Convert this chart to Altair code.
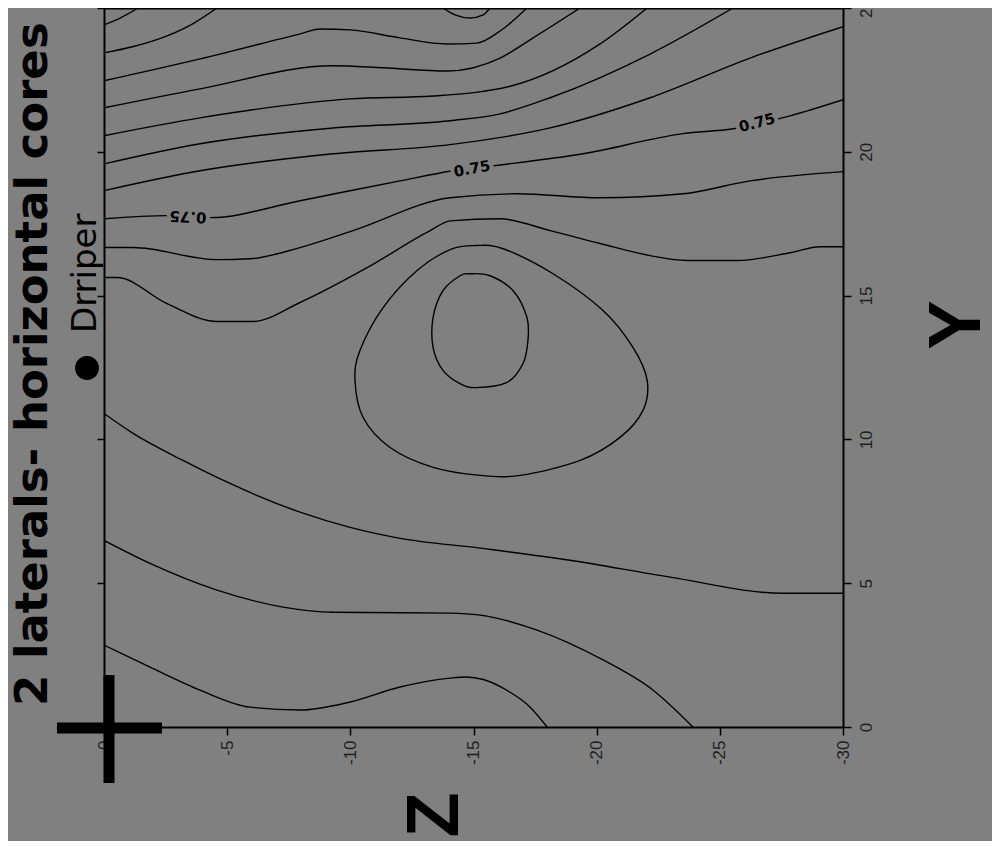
import altair as alt
import pandas as pd

# ---------------- data (Z, Y) ----------------
z_ticks = [0, -5, -10, -15, -20, -25, -30]
y_ticks = [0, 5, 10, 15, 20, 25]

# open contour lines
c01_z = [0, -0.65, -1.4]
c01_y = [24.41, 24.65, 25.0]
c02_z = [-13.76, -14.25, -14.86, -15.39, -15.67]
c02_y = [25.0, 24.76, 24.65, 24.76, 25.0]
c03_z = [0, -1.2, -2.56, -3.6, -4.59]
c03_y = [23.44, 23.66, 24.03, 24.45, 25.0]
c04_z = [0, -3.90, -7.96, -8.77, -9.99, -12.02, -13.93, -15.14, -16.08, -17.17]
c04_y = [22.47, 23.23, 24.10, 24.27, 24.24, 23.96, 23.75, 23.78, 24.20, 25.0]
c05_z = [0, -3.90, -9.30, -11.33, -13.93, -16.08, -17.42, -19.33]
c05_y = [21.53, 22.19, 22.99, 22.92, 22.81, 23.26, 23.96, 25.0]
c06_z = [0, -3.90, -9.99, -13.36, -16.5, -20.14, -22.05]
c06_y = [20.56, 21.18, 21.84, 21.94, 22.28, 23.75, 25.0]
c07_z = [0, -3.90, -9.30, -14.05, -16.08, -18.11, -22.17, -25.54]
c07_y = [19.58, 20.28, 20.83, 21.08, 21.32, 21.88, 23.40, 25.0]
c08_z = [0, -3.90, -9.30, -14.05, -18.11, -22.17, -26.23, -30]
c08_y = [18.65, 19.34, 19.93, 20.25, 20.83, 21.88, 23.26, 24.35]
c09_z = [0, -2.56, -4.30, -7.96, -12.02, -14.17, -15.79, -19.45, -23.51, -25.54, -27.85, -30]
c09_y = [17.67, 17.78, 17.71, 18.30, 18.99, 19.34, 19.51, 19.93, 20.63, 20.80, 21.25, 21.81]
c10_z = [0, -1.18, -4.59, -5.93, -7.96, -10.11, -14.05, -16.77, -20.14, -23.51, -26.23, -30]
c10_y = [16.67, 16.67, 16.25, 16.28, 16.67, 17.26, 18.40, 18.54, 18.40, 18.54, 18.99, 19.31]
c11_z = [0, -0.53, -2.56, -4.59, -6.05, -7.96, -10.68, -13.24, -14.05, -16.08, -18.11,
         -20.14, -22.17, -23.67, -25.70, -27.85, -29.07, -30]
c11_y = [15.63, 15.63, 14.72, 14.10, 14.10, 14.76, 15.97, 17.26, 17.60, 17.67, 17.26,
         16.81, 16.39, 16.22, 16.22, 16.49, 16.70, 16.70]
c14_z = [0, -1.18, -3.21, -4.83, -7.96, -9.99, -12.02, -15.27, -18.92, -22.98, -27.57, -30]
c14_y = [10.90, 10.21, 9.27, 8.58, 7.47, 6.94, 6.56, 6.22, 5.80, 5.21, 4.65, 4.65]
c15_z = [0, -1.87, -4.59, -7.27, -9.30, -14.05, -15.27, -17.58, -20.26, -22.29, -23.91]
c15_y = [6.49, 5.69, 4.76, 4.17, 3.99, 3.96, 3.89, 3.37, 2.33, 1.28, 0]
c16_z = [0, -1.87, -3.90, -5.93, -7.96, -9.99, -12.02, -14.05, -14.7, -15.4, -16.20, -17.30, -17.99]
c16_y = [2.85, 2.08, 1.28, 0.69, 0.59, 0.87, 1.39, 1.70, 1.74, 1.65, 1.35, 0.69, 0]

# closed contour loops
c12_z = [-14.05, -15.1, -16.20, -18.23, -20.26, -21.48, -22.05, -21.88, -20.95, -19.33,
         -16.89, -15.27, -13.36, -11.61, -10.52, -10.19, -10.39, -11.33, -12.71]
c12_y = [16.6, 16.74, 16.63, 15.76, 14.48, 13.19, 12.05, 11.01, 10.07, 9.27,
         8.75, 8.75, 9.03, 9.72, 10.76, 12.05, 13.09, 14.58, 15.87]
c13_z = [-14.86, -15.67, -16.61, -17.17, -17.21, -17.01, -16.36, -15.1, -14.45, -13.76,
         -13.36, -13.36, -13.76, -14.45]
c13_y = [15.76, 15.69, 15.17, 14.24, 13.44, 12.64, 11.98, 11.80, 11.94, 12.40,
         13.19, 14.24, 15.17, 15.69]

# contour labels
lab_z = [-3.41, -14.94, -26.51]
lab_y = [17.74, 19.41, 21.01]
lab_angle = [183, 350, 345]
lab_text = ["0.75", "0.75", "0.75"]

title_text = "2 laterals- horizontal cores"
drip_text = "Drriper"
z_title = "Z"
y_title = "Y"

# ---------------- build tables ----------------
def build(pairs):
    rows = []
    for name, zs, ys in pairs:
        for i, (z, y) in enumerate(zip(zs, ys)):
            rows.append({"line": name, "i": i, "Z": z, "Y": y})
    return pd.DataFrame(rows)

open_df = build([
    ("c01", c01_z, c01_y), ("c02", c02_z, c02_y), ("c03", c03_z, c03_y),
    ("c04", c04_z, c04_y), ("c05", c05_z, c05_y), ("c06", c06_z, c06_y),
    ("c07", c07_z, c07_y), ("c08", c08_z, c08_y), ("c09", c09_z, c09_y),
    ("c10", c10_z, c10_y), ("c11", c11_z, c11_y), ("c14", c14_z, c14_y),
    ("c15", c15_z, c15_y), ("c16", c16_z, c16_y),
])
closed_df = build([("c12", c12_z, c12_y), ("c13", c13_z, c13_y)])
lab_df = pd.DataFrame({"Z": lab_z, "Y": lab_y, "ang": lab_angle, "txt": lab_text})
one = pd.DataFrame({"k": [0]})

xscale = alt.Scale(domain=[0, -30], nice=False, zero=False)
yscale = alt.Scale(domain=[0, 25], nice=False, zero=False)

common_axis = dict(
    grid=False, title=None, tickColor="black", tickWidth=1.5, domainColor="black",
    domainWidth=2, labelFont="Liberation Sans", labelFontSize=17, labelColor="#1e1e1e",
    labelFlush=False, labelOverlap=False,
)
bottom_axis = alt.Axis(orient="bottom", values=z_ticks, labelAngle=270, labelAlign="right",
                       labelBaseline="middle", labelPadding=5, tickSize=8,
                       labelExpr="toString(datum.value)", **common_axis)
right_axis = alt.Axis(orient="right", values=y_ticks, labelAngle=270, labelAlign="center",
                      labelBaseline="top", labelPadding=7, tickSize=8,
                      labelExpr="toString(datum.value)", **common_axis)
top_axis = alt.Axis(orient="top", values=z_ticks, labels=False, tickSize=8, **common_axis)
left_axis = alt.Axis(orient="left", values=y_ticks, labels=False, tickSize=7, **common_axis)

open_lines = alt.Chart(open_df).mark_line(
    interpolate="monotone", color="black", strokeWidth=1.4, clip=True
).encode(
    x=alt.X("Z:Q", scale=xscale, axis=bottom_axis),
    y=alt.Y("Y:Q", scale=yscale, axis=right_axis),
    detail="line:N",
    order="i:Q",
)

closed_lines = alt.Chart(closed_df).mark_line(
    interpolate="cardinal-closed", color="black", strokeWidth=1.4, clip=True
).encode(
    x=alt.X("Z:Q", scale=xscale, axis=top_axis),
    y=alt.Y("Y:Q", scale=yscale, axis=left_axis),
    detail="line:N",
    order="i:Q",
)

lab_mask = alt.Chart(lab_df).mark_text(
    font="DejaVu Sans", fontSize=15, fontWeight="bold", color="#808080",
    stroke="#808080", strokeWidth=8, align="center", baseline="middle"
).encode(
    x=alt.X("Z:Q", scale=xscale, axis=None),
    y=alt.Y("Y:Q", scale=yscale, axis=None),
    angle=alt.Angle("ang:Q", scale=None),
    text="txt:N",
)
lab_txt = alt.Chart(lab_df).mark_text(
    font="DejaVu Sans", fontSize=15, fontWeight="bold", color="black",
    align="center", baseline="middle"
).encode(
    x=alt.X("Z:Q", scale=xscale, axis=None),
    y=alt.Y("Y:Q", scale=yscale, axis=None),
    angle=alt.Angle("ang:Q", scale=None),
    text="txt:N",
)

title_mark = alt.Chart(one).mark_text(
    text=title_text, angle=270, align="left", baseline="alphabetic",
    font="DejaVu Sans", fontSize=45, fontWeight="bold", color="black"
).encode(x=alt.value(-57), y=alt.value(698))

drip_mark = alt.Chart(one).mark_text(
    text=drip_text, angle=270, align="left", baseline="alphabetic",
    font="DejaVu Sans", fontSize=34, color="black"
).encode(x=alt.value(-8), y=alt.value(325))

dot_mark = alt.Chart(one).mark_point(
    shape="circle", filled=True, size=570, color="black", opacity=1
).encode(x=alt.value(-17), y=alt.value(360))

cross_v = alt.Chart(one).mark_rule(color="black", strokeWidth=11).encode(
    x=alt.value(5), y=alt.value(667), y2=alt.value(775))
cross_h = alt.Chart(one).mark_rule(color="black", strokeWidth=11).encode(
    x=alt.value(-47), x2=alt.value(58), y=alt.value(720))

z_mark = alt.Chart(one).mark_text(
    text=z_title, angle=270, align="center", baseline="alphabetic",
    font="Liberation Sans", fontSize=74, fontWeight="bold", color="black"
).encode(x=alt.value(354), y=alt.value(807))
y_mark = alt.Chart(one).mark_text(
    text=y_title, angle=270, align="center", baseline="alphabetic",
    font="Liberation Sans", fontSize=74, fontWeight="bold", color="black"
).encode(x=alt.value(876), y=alt.value(317))

chart = alt.layer(
    open_lines, closed_lines, lab_mask, lab_txt,
    title_mark, drip_mark, dot_mark, cross_v, cross_h, z_mark, y_mark,
).resolve_axis(
    x="independent", y="independent"
).properties(
    width=739, height=719,
    autosize=alt.AutoSizeParams(type="none"),
    padding={"left": 96, "top": 0, "right": 149, "bottom": 114},
    background="#808080",
).configure_view(strokeWidth=0)

chart.save("out.html", embed_options={"renderer": "svg", "actions": False})
